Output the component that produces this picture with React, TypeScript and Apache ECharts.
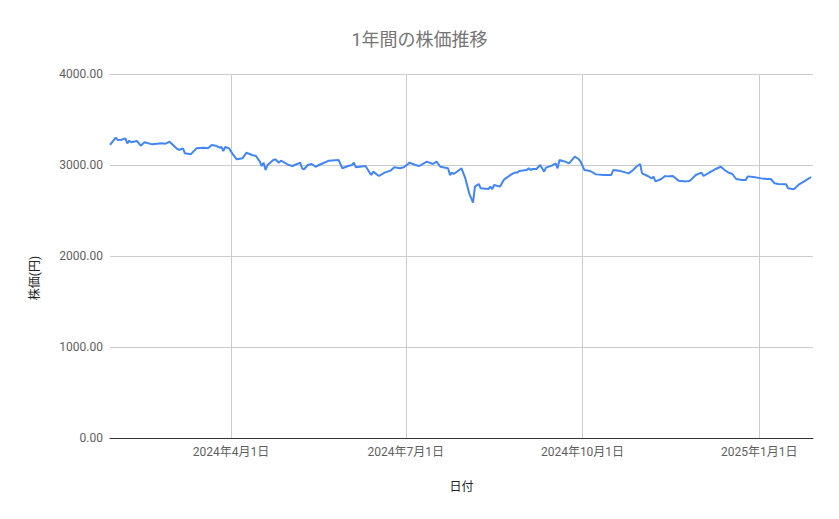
import React, { useRef, useEffect } from 'react';
import * as echarts from 'echarts';

const TITLE = '1年間の株価推移';
const X_NAME = '日付';
const Y_NAME = '株価(円)';

const X_MIN = '2024-01-29';
const X_MAX = '2025-01-29';
const MONTH_TICKS = ['2024-04-01', '2024-07-01', '2024-10-01', '2025-01-01'];
const MONTH_LABELS = ['2024年4月1日', '2024年7月1日', '2024年10月1日', '2025年1月1日'];
const Y_TICKS = [0, 1000, 2000, 3000, 4000];

const dates = [
  '2024-01-29', '2024-02-01', '2024-02-02', '2024-02-04', '2024-02-06', '2024-02-07', '2024-02-08', '2024-02-09',
  '2024-02-12', '2024-02-14', '2024-02-16', '2024-02-20', '2024-02-25', '2024-02-27', '2024-02-29',
  '2024-03-04', '2024-03-05', '2024-03-07', '2024-03-08', '2024-03-11', '2024-03-14', '2024-03-18', '2024-03-20',
  '2024-03-22', '2024-03-24', '2024-03-26', '2024-03-27', '2024-03-28', '2024-03-29', '2024-03-31',
  '2024-04-02', '2024-04-04', '2024-04-07', '2024-04-09', '2024-04-12', '2024-04-14', '2024-04-16', '2024-04-17',
  '2024-04-18', '2024-04-19', '2024-04-20', '2024-04-23', '2024-04-24', '2024-04-26', '2024-04-27',
  '2024-05-01', '2024-05-03', '2024-05-07', '2024-05-08', '2024-05-09', '2024-05-11', '2024-05-13', '2024-05-15',
  '2024-05-18', '2024-05-22', '2024-05-27', '2024-05-29',
  '2024-06-01', '2024-06-03', '2024-06-04', '2024-06-05', '2024-06-10', '2024-06-13', '2024-06-14', '2024-06-17',
  '2024-06-20', '2024-06-23', '2024-06-25', '2024-06-28', '2024-06-30',
  '2024-07-03', '2024-07-06', '2024-07-08', '2024-07-12', '2024-07-15', '2024-07-17', '2024-07-19', '2024-07-23',
  '2024-07-24', '2024-07-25', '2024-07-26', '2024-07-30',
  '2024-08-01', '2024-08-03', '2024-08-05', '2024-08-06', '2024-08-08', '2024-08-09', '2024-08-13', '2024-08-14',
  '2024-08-15', '2024-08-16', '2024-08-19', '2024-08-21', '2024-08-22', '2024-08-25', '2024-08-27', '2024-08-28',
  '2024-08-29',
  '2024-09-02', '2024-09-03', '2024-09-04', '2024-09-05', '2024-09-07', '2024-09-09', '2024-09-11', '2024-09-12',
  '2024-09-15', '2024-09-17', '2024-09-18', '2024-09-19', '2024-09-22', '2024-09-24', '2024-09-27', '2024-09-29',
  '2024-09-30',
  '2024-10-02', '2024-10-05', '2024-10-08', '2024-10-12', '2024-10-16', '2024-10-17', '2024-10-20', '2024-10-25',
  '2024-10-27', '2024-10-29', '2024-10-31',
  '2024-11-01', '2024-11-04', '2024-11-06', '2024-11-07', '2024-11-08', '2024-11-11', '2024-11-13', '2024-11-14',
  '2024-11-17', '2024-11-20', '2024-11-24', '2024-11-26', '2024-11-29',
  '2024-12-02', '2024-12-03', '2024-12-06', '2024-12-09', '2024-12-12', '2024-12-14', '2024-12-16', '2024-12-18',
  '2024-12-20', '2024-12-23', '2024-12-25', '2024-12-26', '2024-12-29',
  '2025-01-02', '2025-01-05', '2025-01-07', '2025-01-09', '2025-01-11', '2025-01-15', '2025-01-16', '2025-01-19',
  '2025-01-22', '2025-01-25', '2025-01-28',
];

const prices = [
  3220, 3300, 3275, 3278, 3293, 3238, 3267, 3249,
  3264, 3212, 3249, 3227, 3238, 3234, 3256,
  3176, 3165, 3183, 3128, 3117, 3183, 3190, 3183,
  3220, 3212, 3190, 3198, 3154, 3198, 3183,
  3117, 3062, 3073, 3135, 3110, 3099, 3037, 2989,
  3026, 2945, 3000, 3055, 3062, 3026, 3048,
  3000, 2989, 3026, 2964, 2953, 3000, 3011, 2981,
  3011, 3048, 3055, 2964,
  2989, 3000, 3026, 2975, 2989, 2890, 2927, 2879,
  2916, 2938, 2975, 2964, 2975,
  3026, 3000, 2989, 3037, 3011, 3037, 2981, 2964,
  2890, 2916, 2901, 2964,
  2853, 2689, 2586, 2762, 2791, 2744, 2736, 2762,
  2736, 2780, 2762, 2835, 2853, 2897, 2919, 2916,
  2934,
  2945, 2964, 2945, 2956, 2956, 3000, 2927, 2971,
  2993, 3018, 2964, 3055, 3037, 3018, 3092, 3066,
  3037,
  2945, 2934, 2897, 2890, 2890, 2945, 2938, 2908,
  2938, 2981, 3011,
  2908, 2879, 2853, 2871, 2820, 2846, 2879, 2875,
  2879, 2828, 2820, 2828, 2890,
  2916, 2879, 2916, 2953, 2981, 2945, 2916, 2901,
  2846, 2835, 2835, 2875, 2868,
  2853, 2846, 2846, 2799, 2791, 2788, 2744, 2733,
  2791, 2828, 2868,
];

const FONT = 'Roboto, "Noto Sans CJK JP", sans-serif';

export default function App() {
  const chartRef = useRef<HTMLDivElement>(null);

  useEffect(() => {
    if (!chartRef.current) return;
    const chart = echarts.init(chartRef.current, undefined, { renderer: 'svg' });

    chart.setOption({
      animation: false,
      backgroundColor: '#ffffff',
      textStyle: { fontFamily: FONT },
      title: {
        text: TITLE,
        left: 'center',
        top: 25,
        textStyle: { fontFamily: FONT, fontSize: 18, fontWeight: 'normal', color: '#757575' },
      },
      grid: { left: 110, right: 26, top: 74, bottom: 81 },
      xAxis: {
        type: 'time',
        min: X_MIN,
        max: X_MAX,
        name: X_NAME,
        nameLocation: 'middle',
        nameGap: 43,
        nameTextStyle: { fontFamily: FONT, fontSize: 12, color: '#222222' },
        axisLine: { show: true, lineStyle: { color: '#333333', width: 1 } },
        axisTick: { show: false },
        axisLabel: { show: false },
        splitLine: { show: false },
      },
      yAxis: {
        type: 'value',
        min: Y_TICKS[0],
        max: Y_TICKS[Y_TICKS.length - 1],
        interval: 1000,
        axisLine: { show: false },
        axisTick: { show: false },
        axisLabel: {
          formatter: (v: number) => v.toFixed(2),
          fontFamily: FONT,
          fontSize: 12,
          color: '#5f5f5f',
          margin: 7,
        },
        splitLine: { lineStyle: { color: '#cccccc', width: 1 } },
      },
      graphic: [
        {
          type: 'text',
          x: 35,
          y: 278,
          rotation: Math.PI / 2,
          style: {
            text: Y_NAME,
            fontFamily: FONT,
            fontSize: 12,
            fill: '#222222',
            align: 'center',
            verticalAlign: 'middle',
          },
        },
      ],
      series: [
        {
          type: 'line',
          data: dates.map((d, i) => [d, prices[i]]),
          showSymbol: false,
          symbol: 'none',
          lineStyle: { color: '#4285f4', width: 2 },
          itemStyle: { color: '#4285f4' },
          z: 3,
          markLine: {
            silent: true,
            symbol: 'none',
            lineStyle: { color: '#cccccc', width: 1, type: 'solid' },
            label: {
              show: true,
              position: 'start',
              distance: 8,
              fontFamily: FONT,
              fontSize: 12,
              color: '#5f5f5f',
            },
            data: MONTH_TICKS.map((d, i) => ({
              xAxis: d,
              label: { formatter: MONTH_LABELS[i] },
            })),
            z: 1,
          },
        },
      ],
    });

    return () => chart.dispose();
  }, []);

  return (
    <div
      ref={chartRef}
      style={{ position: 'fixed', left: 0, top: 0, width: 839, height: 519 }}
    />
  );
}
